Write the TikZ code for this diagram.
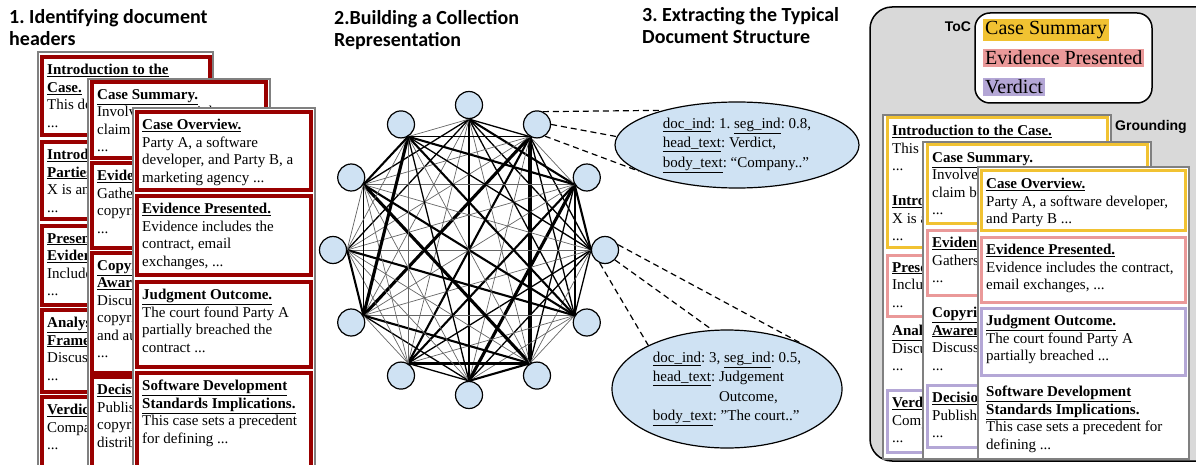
\documentclass[tikz,border=0pt]{standalone}
\usepackage{fontspec}
\setmainfont{Liberation Serif}
\newfontfamily\titlefont{Carlito}
\newfontfamily\labelfont{Liberation Sans}
\usetikzlibrary{shapes.geometric,backgrounds}
\definecolor{docred}{HTML}{990000}
\definecolor{tocyellow}{HTML}{F1C232}
\definecolor{tocpink}{HTML}{EA9999}
\definecolor{tocpurple}{HTML}{B4A7D6}
\definecolor{nodeblue}{HTML}{CFE2F3}
\definecolor{panelgray}{HTML}{D9D9D9}
\tikzset{
    pagebox/.style={draw=gray, fill=white, line width=1.3pt},
    redsec/.style={draw=docred, line width=3.4pt},
    yelsec/.style={draw=tocyellow, line width=3pt},
    pinksec/.style={draw=tocpink, line width=3pt},
    purpsec/.style={draw=tocpurple, line width=3pt},
    sectext/.style={anchor=north west, inner sep=0pt, xshift=5pt, yshift=-7pt,
        align=left, font=\fontsize{15}{17.5}\selectfont},
    titletext/.style={anchor=north west, inner sep=0pt, align=left,
        font=\titlefont\bfseries\fontsize{20}{22}\selectfont},
    plainlabel/.style={inner sep=0pt, font=\labelfont\bfseries\fontsize{14}{16}\selectfont},
    vert/.style={circle, draw, fill=nodeblue, line width=1.2pt, minimum size=27pt, inner sep=0pt},
    infoblob/.style={ellipse, draw, fill=nodeblue, line width=1.2pt, inner sep=0pt,
        align=left, font=\fontsize{15}{19.5}\selectfont},
    zoomline/.style={dashed, line width=1.2pt, dash pattern=on 6pt off 4pt},
    panel/.style={draw, fill=panelgray, line width=1.5pt, rounded corners=22pt},
    tocbox/.style={draw, fill=white, line width=1.5pt, rounded corners=15pt},
    tocitem/.style={anchor=west, inner sep=2pt, font=\fontsize{20}{23}\selectfont},
}
\newcommand\hd[1]{\underline{\textbf{#1}}}
\newcommand\DocPage[4]{%
    \draw[pagebox] (#1,#2) rectangle (#3,#4);
}
\newcommand\DocSec[7]{%
    \draw[#6] (#2,#3) rectangle (#4,#5);
    \node[sectext] (#1) at (#2,#3) {#7};
}
\newcommand\DocText[4]{%
    \node[sectext] (#1) at (#2,#3) {#4};
}
\frenchspacing

\begin{document}
\begin{tikzpicture}[x=1pt,y=-1pt]
    \useasboundingbox (0,0) rectangle (1196,465);
    % titles
    \node[titletext] (title1) at (9,9) {1. Identifying document\\headers};
    \node[titletext] (title2) at (334,10) {2.Building a Collection\\Representation};
    \node[titletext] (title3) at (642,7) {3. Extracting the Typical\\Document Structure};

    % 1: pages with headers
    \DocPage{38}{52}{213}{470}
    \DocSec{a1}{42}{57}{210}{135}{redsec}{\hd{Introduction to the}\\\hd{Case.}\\This do\\...}
    \DocSec{a2}{42}{142}{210}{219}{redsec}{\hd{Introdu}\\\hd{Parties}\\X is an\\...}
    \DocSec{a3}{42}{226}{210}{305}{redsec}{\hd{Present}\\\hd{Eviden}\\Include\\...}
    \DocSec{a4}{42}{310}{210}{392}{redsec}{\hd{Analys}\\\hd{Frame}\\Discuss\\...}
    \DocSec{a5}{42}{397}{210}{475}{redsec}{\hd{Verdict}\\Compa\\...}

    \DocPage{88}{79}{270}{470}
    \DocSec{b1}{92}{82}{266}{158}{redsec}{\hd{Case Summary.}\\Involves a copyright\\claim\\...}
    \DocSec{b2}{92}{163}{266}{248}{redsec}{\hd{Evide}\\Gather\\copyri\\...}
    \DocSec{b3}{92}{253}{266}{373}{redsec}{\hd{Copyr}\\\hd{Aware}\\Discus\\copyri\\and au\\...}
    \DocSec{b4}{92}{377}{266}{475}{redsec}{\hd{Decisi}\\Publis\\copyri\\distrib}

    \DocPage{133}{108}{315}{470}
    \DocSec{c1}{137}{112}{311}{190}{redsec}{\hd{Case Overview.}\\Party A, a software\\developer, and Party B, a\\marketing agency ...}
    \DocSec{c2}{137}{196}{311}{275}{redsec}{\hd{Evidence Presented.}\\Evidence includes the\\contract, email\\exchanges, ...}
    \DocSec{c3}{137}{282}{311}{367}{redsec}{\hd{Judgment Outcome.}\\The court found Party A\\partially breached the\\contract ...}
    \DocSec{c4}{137}{373}{311}{475}{redsec}{\hd{Software Development}\\\hd{Standards Implications.}\\This case sets a precedent\\for defining ...}

    % 2: collection graph
    \foreach \i in {0,...,11}
        \node[vert] (v\i) at ({469+136*cos(90-30*\i)},{250-145*sin(90-30*\i)}) {};
    \pgfmathsetseed{2024}
    \begin{scope}[on background layer]
        \foreach \i in {0,...,10}{
            \pgfmathtruncatemacro\k{\i+1}
            \pgfmathtruncatemacro\ai{270-30*\i}
            \foreach \j in {\k,...,11}{
                \pgfmathtruncatemacro\aj{270-30*\j}
                \pgfmathrandominteger{\w}{0}{9}
                \pgfmathsetmacro\lw{{0.7,0.7,0.7,0.7,1.3,1.3,1.3,2.1,2.1,3.1}[\w]}
                \pgfmathtruncatemacro\ink{{60,60,60,60,100,100,100,100,100,100}[\w]}
                \draw[line width=\lw pt, draw=black!\ink] (v\i.\ai) -- (v\j.\aj);
            }
        }
    \end{scope}

    % 3: segment records
    \node[infoblob, minimum width=244pt, minimum height=86pt] (e1) at (737,145)
        {\underline{doc\_ind}: 1. \underline{seg\_ind}: 0.8,\\
         \underline{head\_text}: Verdict,\\
         \underline{body\_text}: “Company..”};
    \node[infoblob, minimum width=230pt, minimum height=118pt] (e2) at (727,389)
        {\underline{doc\_ind}: 3, \underline{seg\_ind}: 0.5,\\
         \underline{head\_text}: Judgement\\
         \hphantom{\underline{head\_text}: }Outcome,\\
         \underline{body\_text}: "The court.."};
    \draw[zoomline] (v1.65) -- (e1.155);
    \draw[zoomline] (v1.0) -- (e1.176);
    \draw[zoomline] (v1.-56) -- (e1.195);
    \draw[zoomline] (v3.22) -- (e2.32);
    \draw[zoomline] (v3.-45) -- (e2.104);
    \draw[zoomline] (v3.-112) -- (e2.151);

    % grounding panel
    \draw[panel] (870,7) rectangle (1222,461);
    \node[plainlabel] (toc) at (958,27) {ToC};
    \draw[tocbox] (975,13) rectangle (1152,103);
    \node[tocitem, fill=tocyellow] (h1) at (983,30) {Case Summary};
    \node[tocitem, fill=tocpink] (h2) at (983,58) {Evidence Presented};
    \node[tocitem, fill=tocpurple] (h3) at (983,87) {Verdict};
    \node[plainlabel] (grounding) at (1151,127) {Grounding};

    \DocPage{883}{115}{1111}{459}
    \DocSec{r1a}{887}{118}{1107}{247}{yelsec}{\hd{Introduction to the Case.}\\This d\\...\\[17.5pt]\hd{Intro}\\X is a\\...}
    \DocSec{r1b}{887}{255}{1107}{316}{pinksec}{\hd{Prese}\\Includ\\...}
    \DocText{r1c}{887}{318}{\hd{Analy}\\Discu\\...}
    \DocSec{r1d}{887}{390}{1107}{452}{purpsec}{\hd{Verdi}\\Comp\\...}

    \DocPage{923}{142}{1151}{459}
    \DocSec{r2a}{927}{145}{1147}{223}{yelsec}{\hd{Case Summary.}\\Involves\\claim by\\...}
    \DocSec{r2b}{927}{230}{1147}{295}{pinksec}{\hd{Evidenc}\\Gathers\\...}
    \DocText{r2c}{927}{300}{\hd{Copyrig}\\\hd{Awaren}\\Discuss\\...}
    \DocSec{r2d}{927}{385}{1147}{447}{purpsec}{\hd{Decisio}\\Publish\\...}

    \DocPage{978}{167}{1189}{459}
    \DocSec{r3a}{981}{171}{1185}{230}{yelsec}{\hd{Case Overview.}\\Party A, a software developer,\\and Party B ...}
    \DocSec{r3b}{981}{237}{1185}{302}{pinksec}{\hd{Evidence Presented.}\\Evidence includes the contract,\\email exchanges, ...}
    \DocSec{r3c}{981}{308}{1185}{375}{purpsec}{\hd{Judgment Outcome.}\\The court found Party A\\partially breached ...}
    \DocText{r3d}{981}{379}{\hd{Software Development}\\\hd{Standards Implications.}\\This case sets a precedent for\\defining ...}
\end{tikzpicture}
\end{document}
